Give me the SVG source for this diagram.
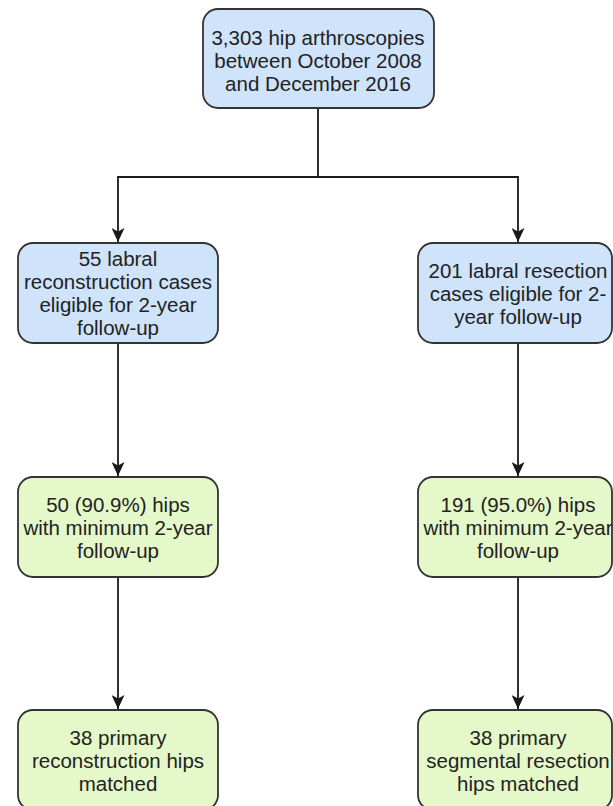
<svg xmlns="http://www.w3.org/2000/svg" width="613" height="806" viewBox="0 0 613 806">
<defs>
<style>
.box{stroke:#333333;stroke-width:1.8}
.blue{fill:#cfe3fb}
.green{fill:#e5f8c9}
.t{font-family:"Liberation Sans",Arial,sans-serif;font-size:20.5px;fill:#222222;text-anchor:middle}
.c{fill:none;stroke:#1a1a1a;stroke-width:1.8}
</style>
<marker id="arr" viewBox="0 0 12 12" refX="12" refY="6" markerWidth="14" markerHeight="13" markerUnits="userSpaceOnUse" orient="auto" preserveAspectRatio="none">
<path d="M0,0 L12,6 L0,12 L3,6 Z" fill="#1a1a1a"/>
</marker>
</defs>
<rect width="613" height="806" fill="#ffffff"/>
<g id="connectors">
<path class="c" d="M318,108 V177 H118 V242" marker-end="url(#arr)"/>
<path class="c" d="M318,177 H518 V242" marker-end="url(#arr)"/>
<path class="c" d="M118,343 V476" marker-end="url(#arr)"/>
<path class="c" d="M518,343 V476" marker-end="url(#arr)"/>
<path class="c" d="M118,577 V709" marker-end="url(#arr)"/>
<path class="c" d="M518,577 V709" marker-end="url(#arr)"/>
</g>
<g id="n-total">
<rect class="box blue" x="203" y="9" width="231" height="99" rx="15"/>
<text class="t" x="318"><tspan x="318" y="45">3,303 hip arthroscopies</tspan><tspan x="318" y="68">between October 2008</tspan><tspan x="318" y="91">and December 2016</tspan></text>
</g>
<g id="n-recon">
<rect class="box blue" x="18" y="243" width="200" height="100" rx="15"/>
<text class="t"><tspan x="118" y="266">55 labral</tspan><tspan x="118" y="289">reconstruction cases</tspan><tspan x="118" y="312">eligible for 2-year</tspan><tspan x="118" y="335">follow-up</tspan></text>
</g>
<g id="n-resect">
<rect class="box blue" x="418" y="243" width="194" height="100" rx="15"/>
<text class="t"><tspan x="518" y="278">201 labral resection</tspan><tspan x="518" y="301">cases eligible for 2-</tspan><tspan x="518" y="324">year follow-up</tspan></text>
</g>
<g id="n-recon-fu">
<rect class="box green" x="18" y="477" width="200" height="100" rx="15"/>
<text class="t"><tspan x="118" y="512">50 (90.9%) hips</tspan><tspan x="118" y="535">with minimum 2-year</tspan><tspan x="118" y="558">follow-up</tspan></text>
</g>
<g id="n-resect-fu">
<rect class="box green" x="418" y="477" width="194" height="100" rx="15"/>
<text class="t"><tspan x="518" y="512">191 (95.0%) hips</tspan><tspan x="518" y="535">with minimum 2-year</tspan><tspan x="518" y="558">follow-up</tspan></text>
</g>
<g id="n-recon-match">
<rect class="box green" x="18" y="710" width="200" height="100" rx="15"/>
<text class="t"><tspan x="118" y="745">38 primary</tspan><tspan x="118" y="768">reconstruction hips</tspan><tspan x="118" y="791">matched</tspan></text>
</g>
<g id="n-resect-match">
<rect class="box green" x="418" y="710" width="194" height="100" rx="15"/>
<text class="t"><tspan x="518" y="745">38 primary</tspan><tspan x="518" y="768">segmental resection</tspan><tspan x="518" y="791">hips matched</tspan></text>
</g>
</svg>
